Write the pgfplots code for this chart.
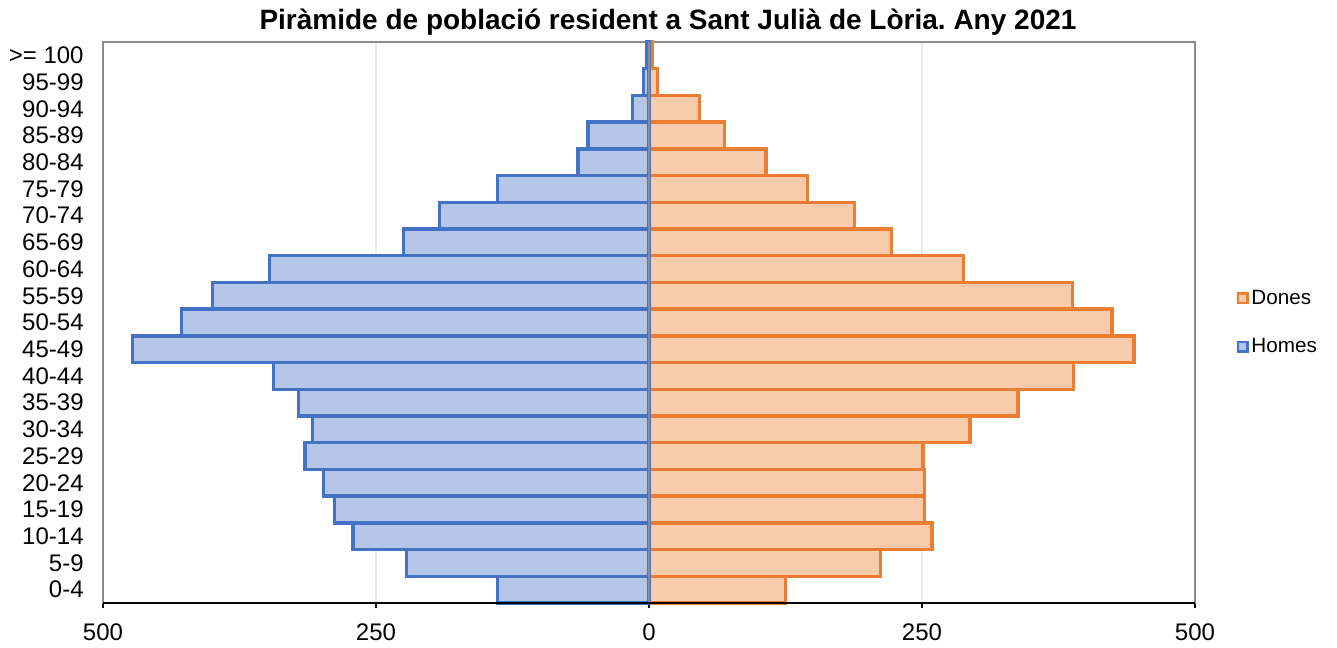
\documentclass[border=0pt]{standalone}
\usepackage{fontspec}
\setmainfont{Liberation Sans}
\usepackage{pgfplots}
\pgfplotsset{compat=1.18}
\frenchspacing
\definecolor{hfill}{HTML}{B4C7E7}
\definecolor{hdraw}{HTML}{4472C4}
\definecolor{dfill}{HTML}{F8CBAD}
\definecolor{ddraw}{HTML}{ED7D31}
\definecolor{axgray}{HTML}{8C8C8C}
\definecolor{gridgray}{HTML}{EBEBEB}
\pgfplotstableread{
y homes dones
0  -139 125
1  -222 212
2  -271 259
3  -288 252
4  -298 252
5  -315 251
6  -308 294
7  -321 338
8  -344 389
9  -473 444
10 -428 424
11 -400 388
12 -347.5 288
13 -225 222
14 -192 188
15 -139 145
16 -65 107
17 -56 69
18 -15 46
19 -5 8
20 -2.5 3
}\pop
\begin{document}
\begin{tikzpicture}
\useasboundingbox (-77.25pt,-33.75pt) rectangle (925.5pt,452.25pt);
\begin{axis}[
  at={(0pt,0pt)}, anchor=south west,
  scale only axis, width=819pt, height=420.75pt,
  xmin=-500, xmax=500, ymin=-0.5, ymax=20.5,
  xbar, bar width=1, bar shift=0pt,
  axis line style={axgray, line width=0.8pt},
  xtick={-500,-250,0,250,500},
  xticklabels={500,250,0,250,500},
  xtick pos=bottom, tick align=outside,
  xtick style={black, line width=0.8pt},
  major tick length=4pt,
  xmajorgrids, grid style={gridgray, line width=0.8pt},
  ytick={0,...,20},
  yticklabels={0-4,5-9,10-14,15-19,20-24,25-29,30-34,35-39,40-44,45-49,50-54,55-59,60-64,65-69,70-74,75-79,80-84,85-89,90-94,95-99,>= 100},
  ytick style={draw=none},
  tick label style={font=\fontsize{18}{20}\selectfont},
  /pgf/number format/assume math mode=true,
  yticklabel style={xshift=-7pt},
  xticklabel style={yshift=-8pt},
  legend style={at={(1.038,0.5)}, anchor=west, draw=none, fill=none,
    font=\fontsize{15.5}{17}\selectfont, row sep=20pt, inner sep=0pt,
    /tikz/every even column/.append style={column sep=3.5pt}},
  legend cell align=left,
  legend image code/.code={\draw[#1, line width=2pt] (0pt,-3.5pt) rectangle (7pt,3.5pt);},
  clip=false,
]
\addplot[draw=ddraw, fill=dfill, line width=2.5pt] table[x=dones, y=y] \pop;
\addlegendentry{Dones}
\addplot[draw=hdraw, fill=hfill, line width=2.5pt] table[x=homes, y=y] \pop;
\addlegendentry{Homes}
\draw[axgray, line width=1.4pt] (axis cs:0,-0.5) -- (axis cs:0,20.5);
\draw[black, line width=1.5pt] (axis cs:-500,-0.5) -- (axis cs:500,-0.5);
\end{axis}
\node[font=\bfseries\fontsize{21}{24}\selectfont] at (423.75pt,436pt) {Piràmide de població resident a Sant Julià de Lòria. Any 2021};
\end{tikzpicture}
\end{document}
